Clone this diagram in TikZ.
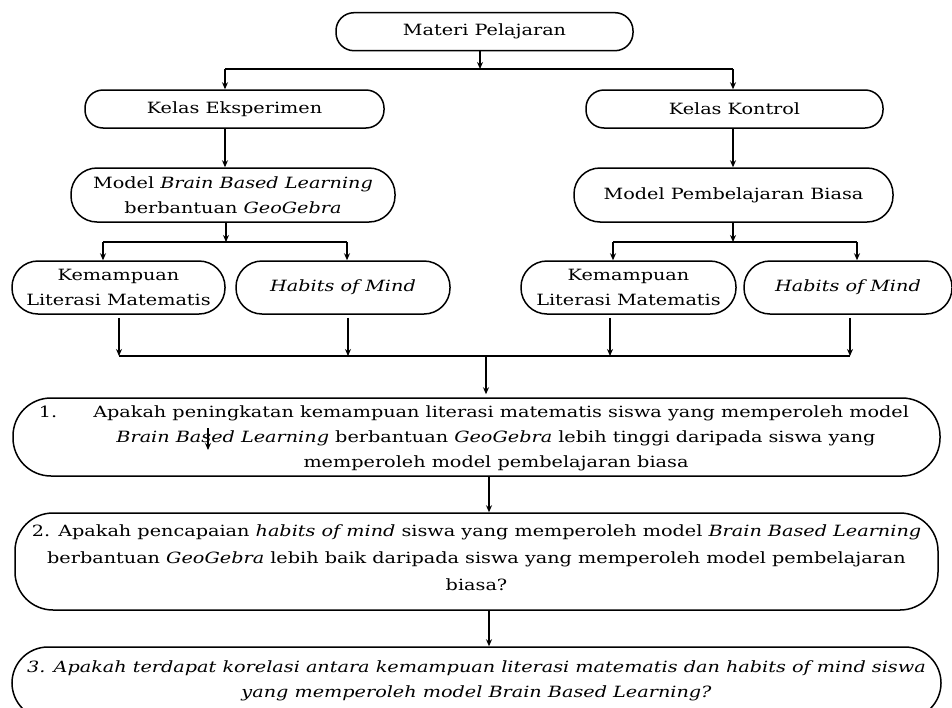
\documentclass[tikz,border=0pt]{standalone}
\usepackage{fontspec}
\setmainfont{DejaVu Serif}[FakeStretch=1.24]
\usetikzlibrary{arrows.meta}
\begin{document}
\begin{tikzpicture}[x=1pt,y=-1pt,
  box/.style={draw, line width=1.5pt, rounded corners=#1, inner sep=0pt, align=center,
    font=\fontsize{15.5}{25}\selectfont},
  box/.default=18pt,
  ln/.style={line width=1.4pt},
  arr/.style={line width=1.4pt, -{Stealth[length=7pt,width=6pt]}}
]
\useasboundingbox (0,0) rectangle (952,707);
\clip (0,0) rectangle (952,707);
\fill[white] (0,0) rectangle (952,707);

% nodes
\node[box, minimum width=297pt, minimum height=38pt] (materi) at (484.5,31.7) {Materi Pelajaran};
\node[box, minimum width=299pt, minimum height=38pt] (ke) at (234.5,109) {Kelas Eksperimen};
\node[box, minimum width=297pt, minimum height=38pt] (kk) at (734.5,109) {Kelas Kontrol};
\node[box=26pt, minimum width=324pt, minimum height=54pt] (bbl) at (233,195) {Model \textit{Brain Based Learning}\\berbantuan \textit{GeoGebra}};
\node[box=26pt, minimum width=319pt, minimum height=54pt] (pb) at (733.5,195) {Model Pembelajaran Biasa};
\node[box=26pt, minimum width=213pt, minimum height=53pt] (kl) at (118.5,287.5) {Kemampuan\\Literasi Matematis};
\node[box=26pt, minimum width=214pt, minimum height=53pt] (hl) at (343,287.5) {\textit{Habits of Mind}};
\node[box=26pt, minimum width=215pt, minimum height=53pt] (kr) at (628.5,287.5) {Kemampuan\\Literasi Matematis};
\node[box=26pt, minimum width=208pt, minimum height=53pt] (hr) at (848,287.5) {\textit{Habits of Mind}};

\node[box=38pt, minimum width=927pt, minimum height=78pt] (q1) at (476.5,437) {};
\node[font=\fontsize{15.5}{25}\selectfont, align=center, inner sep=0pt] (t1) at (474,438)
  {1.\hspace{36pt}Apakah peningkatan kemampuan literasi matematis siswa yang memperoleh model\\
   \hspace*{44pt}\textit{Brain Based Learning} berbantuan \textit{GeoGebra} lebih tinggi daripada siswa yang\\
   \hspace*{44pt}memperoleh model pembelajaran biasa};
\node[box=38pt, minimum width=923pt, minimum height=97pt] (q2) at (476.5,561.5) {};
\node[font=\fontsize{15.5}{27}\selectfont, align=center, inner sep=0pt] (t2) at (476.5,558)
  {2. Apakah pencapaian \textit{habits of mind} siswa yang memperoleh model \textit{Brain Based Learning}\\
   berbantuan \textit{GeoGebra} lebih baik daripada siswa yang memperoleh model pembelajaran\\
   biasa?};
\node[box=36pt, minimum width=929pt, minimum height=72pt] (q3) at (476.5,683) {};
\node[font=\fontsize{15.5}{25}\selectfont\itshape, align=center, inner sep=0pt] (t3) at (476.5,680.5)
  {3. Apakah terdapat korelasi antara kemampuan literasi matematis dan habits of mind siswa\\
   yang memperoleh model Brain Based Learning?};

% junction coordinates
\coordinate (j1) at (480,69);
\coordinate (j1l) at (225,69);
\coordinate (j1r) at (733,69);
\coordinate (j2) at (226,242);
\coordinate (j2l) at (103,242);
\coordinate (j2r) at (347,242);
\coordinate (j3) at (733,242);
\coordinate (j3l) at (613,242);
\coordinate (j3r) at (857,242);
\coordinate (b1) at (119,356);
\coordinate (b2) at (348,356);
\coordinate (b3) at (610,356);
\coordinate (b4) at (850,356);
\coordinate (bm) at (486,356);
\coordinate (s1) at (208,428);
\coordinate (s2) at (208,450);

% connectors
\draw[arr] (materi.south -| j1) -- (j1);
\draw[ln] (j1l) -- (j1r);
\draw[arr] (j1l) -- (ke.north -| j1l);
\draw[arr] (j1r) -- (kk.north -| j1r);
\draw[arr] (ke.south -| j1l) -- (bbl.north -| j1l);
\draw[arr] (kk.south -| j1r) -- (pb.north -| j1r);

\draw[arr] (bbl.south -| j2) -- (j2);
\draw[ln] (j2l) -- (j2r);
\draw[arr] (j2l) -- (kl.north -| j2l);
\draw[arr] (j2r) -- (hl.north -| j2r);
\draw[arr] (pb.south -| j3) -- (j3);
\draw[ln] (j3l) -- (j3r);
\draw[arr] (j3l) -- (kr.north -| j3l);
\draw[arr] (j3r) -- (hr.north -| j3r);

\draw[arr] ([yshift=-3pt]kl.south -| b1) -- (b1);
\draw[arr] ([yshift=-3pt]hl.south -| b2) -- (b2);
\draw[arr] ([yshift=-3pt]kr.south -| b3) -- (b3);
\draw[arr] ([yshift=-3pt]hr.south -| b4) -- (b4);
\draw[ln] (b1) -- (b4);
\draw[arr] (bm) -- ([yshift=3pt]q1.north -| bm);
\draw[arr] (s1) -- (s2);

\draw[arr] (q1.south -| 489,0) -- (q2.north -| 489,0);
\draw[arr] (q2.south -| 489,0) -- (q3.north -| 489,0);
\end{tikzpicture}
\end{document}
